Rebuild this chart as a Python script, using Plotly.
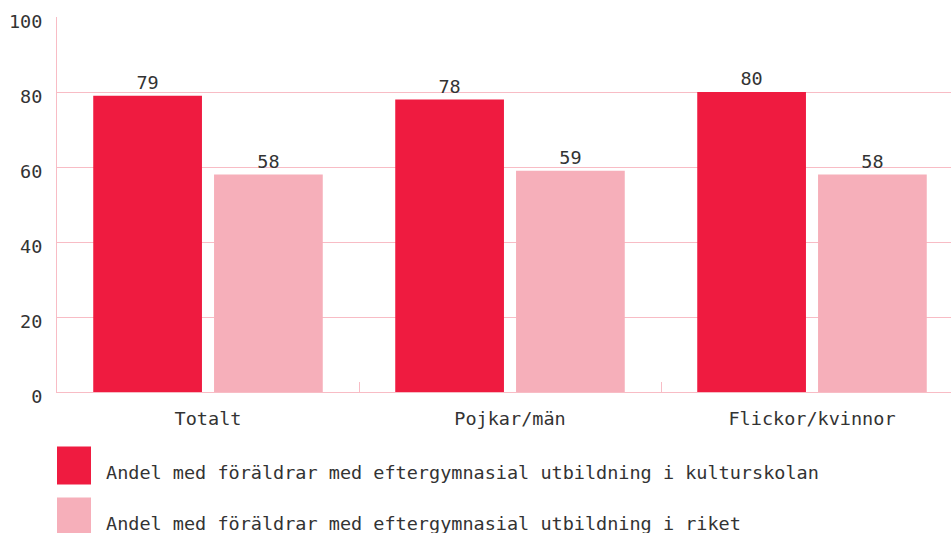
import plotly.graph_objects as go

categories = ["Totalt", "Pojkar/män", "Flickor/kvinnor"]
series_names = [
    "Andel med föräldrar med eftergymnasial utbildning i kulturskolan",
    "Andel med föräldrar med eftergymnasial utbildning i riket",
]
kulturskolan = [79, 78, 80]
riket = [58, 59, 58]
y_ticks = [0, 20, 40, 60, 80, 100]

RED = "#EF1B40"
PINK = "#F6AFBA"
GRID = "#F8BCC5"
TEXT = "#333333"
FONT = "DejaVu Sans Mono, Liberation Mono, monospace"
FS = 18.5

W, H = 951, 533
M_L, M_T, M_B = 57, 17, 141
plot_w = W - M_L
plot_h = H - M_T - M_B


def px_x(x):
    return (x - M_L) / plot_w


def px_y(y):
    return (H - M_B - y) / plot_h


fig = go.Figure()
for name, vals, col in [(series_names[0], kulturskolan, RED), (series_names[1], riket, PINK)]:
    fig.add_trace(go.Bar(
        x=categories, y=vals, name=name, marker=dict(color=col, line=dict(width=0)),
        text=[str(v) for v in vals], textposition="outside", cliponaxis=False,
        textfont=dict(family=FONT, size=FS, color=TEXT),
    ))

# custom legend with large squares
legend_rows = [(446.5, 484.5, 472), (497.5, 535.5, 523)]
for (y0, y1, ty), name, col in zip(legend_rows, series_names, [RED, PINK]):
    fig.add_shape(type="rect", xref="paper", yref="paper",
                  x0=px_x(57), x1=px_x(91), y0=px_y(y1), y1=px_y(y0),
                  fillcolor=col, line=dict(width=0), layer="above")
    fig.add_annotation(xref="paper", yref="paper", x=px_x(104), y=px_y(ty),
                       xanchor="left", yanchor="middle", showarrow=False, text=name,
                       font=dict(family=FONT, size=FS, color=TEXT))

fig.update_layout(
    width=W, height=H,
    margin=dict(l=M_L, r=0, t=M_T, b=M_B, autoexpand=False),
    paper_bgcolor="white", plot_bgcolor="white",
    barmode="group", bargap=0.2, bargroupgap=0.1,
    showlegend=False,
    font=dict(family=FONT, size=FS, color=TEXT),
    xaxis=dict(
        range=[-0.5, -0.5 + plot_w / 302],
        tickson="boundaries", ticks="inside", ticklen=10, tickwidth=1, tickcolor=GRID,
        showline=True, linecolor=GRID, linewidth=1,
        tickfont=dict(family=FONT, size=FS, color=TEXT),
        ticklabelstandoff=10,
        showgrid=False, automargin=False,
    ),
    yaxis=dict(
        range=[0, 100], tickvals=y_ticks,
        showgrid=True, gridcolor=GRID, gridwidth=1,
        zeroline=False,
        showline=True, linecolor=GRID, linewidth=1,
        ticks="", ticklabelstandoff=10, ticklabelshift=5,
        tickfont=dict(family=FONT, size=FS, color=TEXT),
        automargin=False,
    ),
)

# drop the default page margin so the chart sits at the window's corner
fig.write_html("out.html", config={"displayModeBar": False},
               post_script="document.body.style.margin='0';")
